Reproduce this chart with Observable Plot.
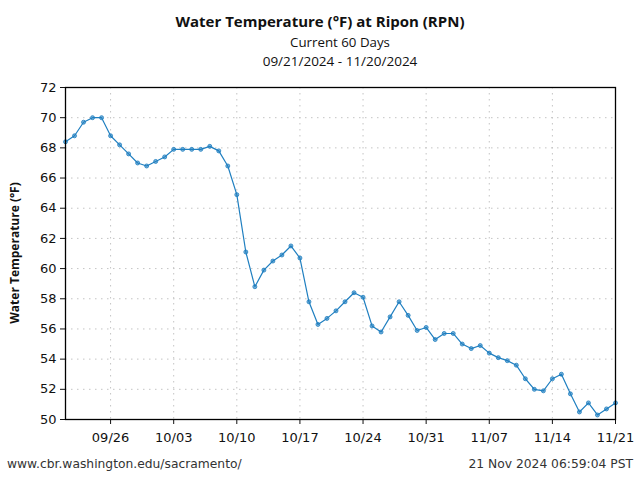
<!DOCTYPE html>
<html><head><meta charset="utf-8">
<script src="https://cdn.jsdelivr.net/npm/d3@7"></script>
<script src="https://cdn.jsdelivr.net/npm/@observablehq/plot@0.6"></script>
<style>
body{margin:0;background:#fff;}
#wrap{position:relative;width:640px;height:480px;overflow:hidden;}
.t{position:absolute;text-align:center;color:#111;}
#title{left:0;width:640px;top:11px;font:bold 15px "Open Sans";}
#sub1{left:40px;width:600px;top:33px;font:13.3px "Open Sans";}
#sub2{left:40px;width:600px;top:52px;font:13.5px "Open Sans";}
.foot{position:absolute;top:457px;font:12.3px "DejaVu Sans";color:#333;}
#fl{left:7px;}
#fr{right:7px;}
#chart{position:absolute;left:0;top:0;}
</style></head><body>
<div id="wrap">
<div id="chart"></div>
<div class="t" id="title">Water Temperature (°F) at Ripon (RPN)</div>
<div class="t" id="sub1">Current 60 Days</div>
<div class="t" id="sub2">09/21/2024 - 11/20/2024</div>
<div class="foot" id="fl">www.cbr.washington.edu/sacramento/</div>
<div class="foot" id="fr">21 Nov 2024 06:59:04 PST</div>
</div>
<script>
const dates = ["2024-09-21","2024-09-22","2024-09-23","2024-09-24","2024-09-25","2024-09-26","2024-09-27","2024-09-28","2024-09-29","2024-09-30",
"2024-10-01","2024-10-02","2024-10-03","2024-10-04","2024-10-05","2024-10-06","2024-10-07","2024-10-08","2024-10-09","2024-10-10",
"2024-10-11","2024-10-12","2024-10-13","2024-10-14","2024-10-15","2024-10-16","2024-10-17","2024-10-18","2024-10-19","2024-10-20",
"2024-10-21","2024-10-22","2024-10-23","2024-10-24","2024-10-25","2024-10-26","2024-10-27","2024-10-28","2024-10-29","2024-10-30",
"2024-10-31","2024-11-01","2024-11-02","2024-11-03","2024-11-04","2024-11-05","2024-11-06","2024-11-07","2024-11-08","2024-11-09",
"2024-11-10","2024-11-11","2024-11-12","2024-11-13","2024-11-14","2024-11-15","2024-11-16","2024-11-17","2024-11-18","2024-11-19",
"2024-11-20","2024-11-21"];
const temps = [68.4,68.8,69.7,70.0,70.0,68.8,68.2,67.6,67.0,66.8,
67.1,67.4,67.9,67.9,67.9,67.9,68.1,67.8,66.8,64.9,
61.1,58.8,59.9,60.5,60.9,61.5,60.7,57.8,56.3,56.7,
57.2,57.8,58.4,58.1,56.2,55.8,56.8,57.8,56.9,55.9,
56.1,55.3,55.7,55.7,55.0,54.7,54.9,54.4,54.1,53.9,
53.6,52.7,52.0,51.9,52.7,53.0,51.7,50.5,51.1,50.3,
50.7,51.1];
const xTickDates = ["2024-09-26","2024-10-03","2024-10-10","2024-10-17","2024-10-24","2024-10-31","2024-11-07","2024-11-14","2024-11-21"];
const yTicks = [50,52,54,56,58,60,62,64,66,68,70,72];
const xDomain = ["2024-09-21","2024-11-21"];
const yDomain = [50,72];

const data = dates.map((d,i)=>({date:new Date(d+"T00:00:00Z"), v:temps[i]}));
const xt = xTickDates.map(d=>new Date(d+"T00:00:00Z"));
const col = "#1f7fc0";

const chart = Plot.plot({
  width:640, height:480,
  marginTop:87, marginBottom:61, marginLeft:65, marginRight:25,
  style:{fontFamily:"DejaVu Sans", fontSize:"13px", color:"#111", background:"transparent"},
  x:{type:"utc", domain:xDomain.map(d=>new Date(d+"T00:00:00Z")), ticks:xt, tickFormat:d3.utcFormat("%m/%d"), tickSize:5, tickPadding:8, label:null},
  y:{domain:yDomain, ticks:yTicks, tickSize:5, tickPadding:4, label:null},
  marks:[
    Plot.gridX(xt,{stroke:"#c4c4c4", strokeOpacity:1, strokeDasharray:"1.5,4.5", strokeWidth:1}),
    Plot.gridY(yTicks,{stroke:"#c4c4c4", strokeOpacity:1, strokeDasharray:"1.5,4.5", strokeWidth:1}),
    Plot.axisX({ticks:xt, tickFormat:d3.utcFormat("%m/%d"), tickSize:5, tickPadding:8, label:null, fontSize:13}),
    Plot.axisY({ticks:yTicks, tickSize:5, tickPadding:4, label:null, fontSize:13}),
    Plot.line(data,{x:"date", y:"v", stroke:col, strokeWidth:1.2}),
    Plot.dot(data,{x:"date", y:"v", r:2, fill:col, fillOpacity:0.6, stroke:col, strokeWidth:0.8}),
    Plot.frame({stroke:"#000", strokeWidth:1.3})
  ]
});
document.getElementById("chart").appendChild(chart);
// y-axis title as real text
const svg = d3.select(chart);
svg.append("text")
  .attr("transform","translate(19,253) rotate(-90)")
  .attr("text-anchor","middle")
  .attr("font-family","Open Sans")
  .attr("font-weight","bold")
  .attr("font-size","12px")
  .attr("fill","#111")
  .text("Water Temperature (°F)");
</script>
</body></html>
